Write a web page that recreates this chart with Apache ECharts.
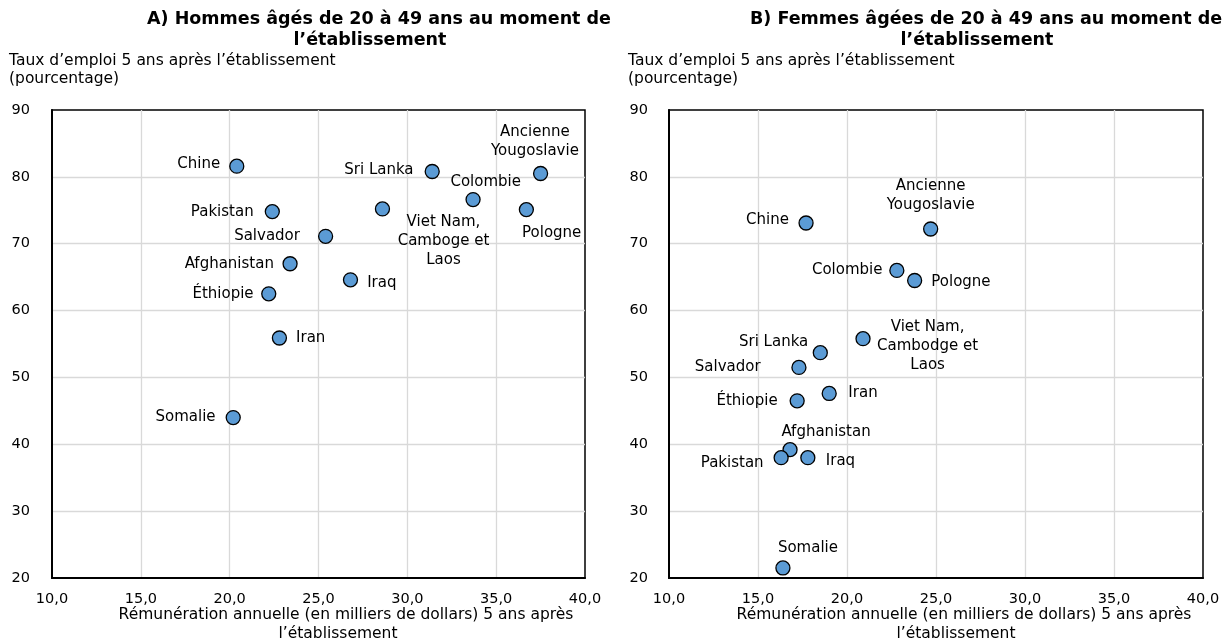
<!DOCTYPE html>
<html>
<head>
<meta charset="utf-8">
<script src="https://cdn.jsdelivr.net/npm/echarts@6/dist/echarts.min.js"></script>
<style>
html,body{margin:0;padding:0;background:#fff;}
#chart{width:1231px;height:641px;}
</style>
</head>
<body>
<div id="chart"></div>
<script>
// ---------- DATA ----------
const titleA = ['A) Hommes âgés de 20 à 49 ans au moment de', 'l’établissement'];
const titleB = ['B) Femmes âgées de 20 à 49 ans au moment de', 'l’établissement'];
const yAxisNameLines = ['Taux d’emploi 5 ans après l’établissement', '(pourcentage)'];
const xAxisNameLines = ['Rémunération annuelle (en milliers de dollars) 5 ans après', 'l’établissement'];
const xTicks = [10, 15, 20, 25, 30, 35, 40];
const yTicks = [20, 30, 40, 50, 60, 70, 80, 90];

const namesA = ['Chine', 'Pakistan', 'Salvador', 'Afghanistan', 'Éthiopie', 'Iran', 'Iraq',
  'Viet Nam,\nCamboge et\nLaos', 'Sri Lanka', 'Colombie', 'Ancienne\nYougoslavie', 'Pologne', 'Somalie'];
const earningsA = [20.4, 22.4, 25.4, 23.4, 22.2, 22.8, 26.8, 28.6, 31.4, 33.7, 37.5, 36.7, 20.2];
const employmentA = [81.6, 74.8, 71.1, 67.0, 62.5, 55.9, 64.6, 75.2, 80.8, 76.6, 80.5, 75.1, 44.0];

const namesB = ['Chine', 'Ancienne\nYougoslavie', 'Colombie', 'Pologne', 'Viet Nam,\nCambodge et\nLaos',
  'Sri Lanka', 'Salvador', 'Iran', 'Éthiopie', 'Afghanistan', 'Pakistan', 'Iraq', 'Somalie'];
const earningsB = [17.7, 24.7, 22.8, 23.8, 20.9, 18.5, 17.3, 19.0, 17.2, 16.8, 16.3, 17.8, 16.4];
const employmentB = [73.1, 72.2, 66.0, 64.5, 55.8, 53.7, 51.5, 47.6, 46.5, 39.2, 38.0, 38.0, 21.5];

// ---------- LABEL PLACEMENT (style) ----------
// [position, distance, dy]  or  ['c', dx, dy] for centred offset
const placeA = {
  'Chine': ['left', 9, -2], 'Pakistan': ['left', 11, 0], 'Salvador': ['left', 18, 0],
  'Afghanistan': ['left', 8.5, 0], 'Éthiopie': ['left', 7.5, 0], 'Iran': ['right', 9, 0],
  'Iraq': ['right', 9, 3], 'Viet Nam,\nCamboge et\nLaos': ['c', 61, 32],
  'Sri Lanka': ['left', 11, -1.5], 'Colombie': ['c', 12.6, -17.6],
  'Ancienne\nYougoslavie': ['c', -5.7, -32], 'Pologne': ['c', 25.3, 23], 'Somalie': ['left', 10, 0]
};
const placeB = {
  'Chine': ['left', 9.5, -2.7], 'Ancienne\nYougoslavie': ['c', 0, -33], 'Colombie': ['left', 6.7, 0],
  'Pologne': ['right', 9, 2], 'Viet Nam,\nCambodge et\nLaos': ['c', 64.6, 7.3],
  'Sri Lanka': ['left', 4.4, -11], 'Salvador': ['left', 30.7, 0], 'Iran': ['right', 11.5, 0],
  'Éthiopie': ['left', 11.9, 0], 'Afghanistan': ['c', 36, -17.3], 'Pakistan': ['left', 9.9, 5],
  'Iraq': ['right', 10.3, 3], 'Somalie': ['c', 25, -19.7]
};

const FONT = 'DejaVu Sans';
function labelFor(p) {
  const base = { show: true, formatter: '{b}', color: '#000', fontSize: 15, fontFamily: FONT,
    lineHeight: 19, textBorderWidth: 0 };
  if (p[0] === 'c') return Object.assign(base, { position: 'inside', align: 'center', offset: [p[1], p[2]] });
  return Object.assign(base, { position: p[0], distance: p[1], offset: [0, p[2]] });
}
function buildData(names, xs, ys, place) {
  return names.map((n, i) => ({ name: n, value: [xs[i], ys[i]], label: labelFor(place[n]) }));
}
const fmt = v => v.toFixed(1).replace('.', ',');

function xAxis(idx) {
  return {
    gridIndex: idx, type: 'value', min: xTicks[0], max: xTicks[xTicks.length - 1],
    interval: xTicks[1] - xTicks[0],
    axisLine: { show: true, onZero: false, lineStyle: { color: '#000', width: 2 } },
    axisTick: { show: false },
    axisLabel: { formatter: fmt, color: '#000', fontSize: 14.5, fontFamily: FONT, margin: 14 },
    splitLine: { show: true, showMinLine: false, showMaxLine: false, lineStyle: { color: '#d9d9d9', width: 1.3 } }
  };
}
function yAxis(idx, margin) {
  return {
    gridIndex: idx, type: 'value', min: yTicks[0], max: yTicks[yTicks.length - 1],
    interval: yTicks[1] - yTicks[0],
    axisLine: { show: true, onZero: false, lineStyle: { color: '#000', width: 2 } },
    axisTick: { show: false },
    axisLabel: { color: '#000', fontSize: 14.5, fontFamily: FONT, margin: margin },
    splitLine: { show: true, showMinLine: false, showMaxLine: false, lineStyle: { color: '#d9d9d9', width: 1.3 } }
  };
}
function series(idx, data) {
  return {
    type: 'scatter', xAxisIndex: idx, yAxisIndex: idx, data: data,
    symbol: 'circle', symbolSize: 14,
    itemStyle: { color: '#5B9BD5', borderColor: '#000', borderWidth: 1.3, opacity: 1 },
    emphasis: { disabled: true }, silent: true
  };
}
function txt(x, y, s, opts) {
  return { type: 'text', x: x, y: y, style: Object.assign({ text: s, fill: '#000', font: '15.5px "' + FONT + '"',
    textAlign: 'left', textVerticalAlign: 'middle' }, opts || {}) };
}
const boldT = { font: 'bold 17.5px "' + FONT + '"', textAlign: 'center' };
const ctr = { textAlign: 'center' };

const chart = echarts.init(document.getElementById('chart'), null, { renderer: 'canvas' });
chart.setOption({
  animation: false,
  backgroundColor: '#fff',
  grid: [
    { left: 52, top: 110, width: 533, height: 468, show: true, borderColor: '#000', borderWidth: 1.5, backgroundColor: 'transparent' },
    { left: 669, top: 110, width: 534, height: 468, show: true, borderColor: '#000', borderWidth: 1.5, backgroundColor: 'transparent' }
  ],
  xAxis: [xAxis(0), xAxis(1)],
  yAxis: [yAxis(0, 22), yAxis(1, 21)],
  series: [
    series(0, buildData(namesA, earningsA, employmentA, placeA)),
    series(1, buildData(namesB, earningsB, employmentB, placeB))
  ],
  graphic: [
    txt(379, 19, titleA[0], boldT), txt(370, 40, titleA[1], boldT),
    txt(986, 19, titleB[0], boldT), txt(977, 40, titleB[1], boldT),
    txt(9, 61, yAxisNameLines[0]), txt(9, 79, yAxisNameLines[1]),
    txt(628, 61, yAxisNameLines[0]), txt(628, 79, yAxisNameLines[1]),
    txt(346, 615, xAxisNameLines[0], ctr), txt(338, 634, xAxisNameLines[1], ctr),
    txt(964, 615, xAxisNameLines[0], ctr), txt(956, 634, xAxisNameLines[1], ctr)
  ]
});
</script>
</body>
</html>
